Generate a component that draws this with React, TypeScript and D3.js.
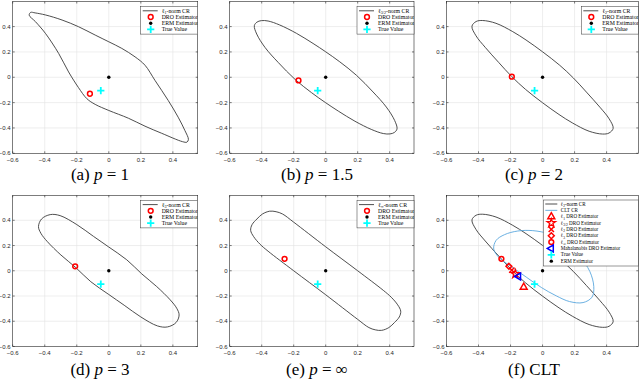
import React from 'react'
import * as d3 from 'd3'

type Pt = [number, number]

// tick values shared by every panel
const xTicks = [-0.6, -0.4, -0.2, 0, 0.2, 0.4]
const yTicks = [-0.6, -0.4, -0.2, 0, 0.2, 0.4]
const gridVals = [-0.4, -0.2, 0, 0.2, 0.4]

// confidence-region boundaries
const l1Curve: Pt[] = [
  [-0.488, 0.512], [-0.46, 0.508], [-0.396, 0.492], [-0.292, 0.452], [-0.189, 0.399], [-0.085, 0.333],
  [0, 0.28], [0.081, 0.228], [0.164, 0.161], [0.226, 0.095], [0.288, -0.024], [0.371, -0.183],
  [0.433, -0.315], [0.475, -0.42], [0.497, -0.49], [0.488, -0.512], [0.46, -0.508], [0.33, -0.442],
  [0.226, -0.386], [0.122, -0.323], [0, -0.262], [-0.085, -0.214], [-0.137, -0.169], [-0.189, -0.082],
  [-0.251, 0.042], [-0.313, 0.188], [-0.396, 0.347], [-0.458, 0.439], [-0.497, 0.49],
]
const l15Curve: Pt[] = [
  [-0.402, 0.447], [-0.36, 0.444], [-0.288, 0.413], [-0.183, 0.347], [-0.079, 0.267], [0, 0.201],
  [0.088, 0.122], [0.192, 0.016], [0.296, -0.116], [0.379, -0.235], [0.431, -0.341], [0.446, -0.407],
  [0.43, -0.435], [0.402, -0.447], [0.36, -0.444], [0.288, -0.413], [0.183, -0.347], [0.079, -0.267],
  [0, -0.201], [-0.088, -0.122], [-0.192, -0.016], [-0.296, 0.116], [-0.379, 0.235], [-0.431, 0.341],
  [-0.446, 0.407], [-0.43, 0.435],
]
const l2Curve: Pt[] = [
  [-0.374, 0.448], [-0.291, 0.426], [-0.186, 0.36], [-0.103, 0.294], [0, 0.201], [0.107, 0.095],
  [0.192, -0.005], [0.274, -0.117], [0.358, -0.236], [0.416, -0.328], [0.441, -0.403], [0.415, -0.44],
  [0.374, -0.448], [0.291, -0.426], [0.186, -0.36], [0.103, -0.294], [0, -0.201], [-0.107, -0.095],
  [-0.192, 0.005], [-0.274, 0.117], [-0.358, 0.236], [-0.416, 0.328], [-0.441, 0.403], [-0.415, 0.44],
]
const l3Curve: Pt[] = [
  [-0.366, 0.445], [-0.304, 0.437], [-0.2, 0.366], [-0.096, 0.273], [0, 0.188], [0.112, 0.087],
  [0.206, -0.025], [0.299, -0.125], [0.383, -0.23], [0.424, -0.297], [0.439, -0.35], [0.42, -0.41],
  [0.366, -0.445], [0.304, -0.437], [0.2, -0.366], [0.096, -0.273], [0, -0.188], [-0.112, -0.087],
  [-0.206, 0.025], [-0.299, 0.125], [-0.383, 0.23], [-0.424, 0.297], [-0.439, 0.35], [-0.42, 0.41],
]
const lInfCurve: Pt[] = [
  [-0.395, 0.45], [-0.35, 0.472], [-0.31, 0.468], [-0.27, 0.45], [-0.2, 0.385], [0, 0.19], [0.2, 0.0],
  [0.36, -0.155], [0.41, -0.21], [0.45, -0.27], [0.469, -0.32], [0.46, -0.366], [0.43, -0.41],
  [0.395, -0.45], [0.35, -0.472], [0.31, -0.468], [0.27, -0.45], [0.2, -0.385], [0, -0.19], [-0.2, 0.0],
  [-0.36, 0.155], [-0.41, 0.21], [-0.45, 0.27], [-0.469, 0.32], [-0.46, 0.366], [-0.43, 0.41],
]
const cltCurve: Pt[] = [
  [-0.305, 0.172], [-0.29, 0.241], [-0.238, 0.286], [-0.155, 0.315], [-0.061, 0.318], [0.044, 0.291],
  [0.148, 0.22], [0.232, 0.114], [0.295, -0.005], [0.32, -0.125], [0.309, -0.209], [0.253, -0.252],
  [0.169, -0.244], [0.086, -0.199], [-0.008, -0.132], [-0.102, -0.05], [-0.196, 0.034], [-0.269, 0.101],
]

// estimators
const droPoints: Pt[] = [[-0.118, -0.13], [-0.17, -0.025], [-0.192, 0.005], [-0.21, 0.035], [-0.257, 0.095]]
const mahalanobisPoint: Pt = [-0.15, -0.045]
const trueValue: Pt = [-0.05, -0.105]
const ermPoint: Pt = [0, 0]

const panelTags = ['(a)', '(b)', '(c)', '(d)', '(e)', '(f)']
const pLabels = ['1', '1.5', '2', '3', '∞']
const normSubs = ['1', '3/2', '2', '3', '∞']
const normCurves = [l1Curve, l15Curve, l2Curve, l3Curve, lInfCurve]
const droMarkers = ['tri', 'star', 'times', 'diamond', 'circle']
const cltLegend = ['ℓ|2|-norm CR', 'CLT CR', 'ℓ|1| DRO Estimator', 'ℓ|3/2| DRO Estimator', 'ℓ|2| DRO Estimator',
  'ℓ|3| DRO Estimator', 'ℓ|∞| DRO Estimator', 'Mahalanobis DRO Estimator', 'True Value', 'ERM Estimator']

const cols = [
  { left: 12.7, right: 197.7, xMax: 0.555, capX: 100 },
  { left: 229.7, right: 414, xMax: 0.552, capX: 317 },
  { left: 446.5, right: 638.3, xMax: 0.598, capX: 534 },
]
const rows = [{ top: 1.5, bottom: 153.3, capY: 179.5 }, { top: 195.3, bottom: 346.5, capY: 374.5 }]
const yMax = 0.598

const SERIF = '"Liberation Serif", "DejaVu Serif", serif'
const SANS = '"Liberation Sans", Arial, sans-serif'
const RED = '#ff0000'
const BLUE = '#0000ff'
const CYAN = '#00ffff'
const CLT_BLUE = '#5aa7de'

const sym = (t: d3.SymbolType, s: number) => d3.symbol().type(t).size(s)() || ''

function Marker({ kind, x, y }: { kind: string; x: number; y: number }) {
  const tr = `translate(${x},${y})`
  switch (kind) {
    case 'circle':
      return <circle cx={x} cy={y} r={2.4} fill="none" stroke={RED} strokeWidth={1.5} />
    case 'erm':
      return <circle cx={x} cy={y} r={1.7} fill="#000" />
    case 'true':
      return <path transform={tr} d={sym(d3.symbolPlus, 19)} stroke={CYAN} strokeWidth={1.8} fill="none" />
    case 'tri':
      return <path transform={tr} d={sym(d3.symbolTriangle2, 34)} stroke={RED} strokeWidth={1.5} fill="none" />
    case 'star':
      return <path transform={tr} d={sym(d3.symbolStar, 22)} stroke={RED} strokeWidth={1.3} fill="none" />
    case 'times':
      return <path transform={tr} d={sym(d3.symbolTimes, 20)} stroke={RED} strokeWidth={1.5} fill="none" />
    case 'diamond':
      return <path transform={tr} d={sym(d3.symbolDiamond2, 22)} stroke={RED} strokeWidth={1.5} fill="none" />
    case 'mah':
      return <path transform={`${tr} rotate(-90)`} d={sym(d3.symbolTriangle2, 34)} stroke={BLUE} strokeWidth={1.5} fill="none" />
    default:
      return null
  }
}

// "ℓ|sub|rest" -> ℓ with subscript
function LegendText({ x, y, s, size }: { x: number; y: number; s: string; size: number }) {
  const parts = s.split('|')
  return (
    <text x={x} y={y} dy="0.33em" fontFamily={SERIF} fontSize={size} fill="#000">
      {parts.length === 3 ? (
        <>
          <tspan>{parts[0]}</tspan>
          <tspan fontSize={size * 0.7} dy={1.2}>{parts[1]}</tspan>
          <tspan dy={-1.2}>{parts[2]}</tspan>
        </>
      ) : s}
    </text>
  )
}

function Panel({ idx }: { idx: number }) {
  const c = cols[idx % 3]
  const r = rows[Math.floor(idx / 3)]
  const sx = d3.scaleLinear().domain([-0.6, c.xMax]).range([c.left, c.right])
  const sy = d3.scaleLinear().domain([-0.6, yMax]).range([r.bottom, r.top])
  const line = d3.line<Pt>().x(d => sx(d[0])).y(d => sy(d[1])).curve(d3.curveCatmullRomClosed.alpha(0.5))
  const clip = `clip-${idx}`
  const lclip = `lclip-${idx}`
  const isClt = idx === 5
  const curve = isClt ? l2Curve : normCurves[idx]

  const legW = isClt ? c.right - 543.3 : 57
  const legH = isClt ? 66 : 27.6
  const lx = c.right - legW
  const ly = r.top + (isClt ? 4.7 : 5)
  const rowH = isClt ? 6.35 : 6.2
  const rowY0 = ly + (isClt ? 4 : 4.3)
  const txtX = lx + (isClt ? 17.5 : 21)
  const mkX = lx + (isClt ? 8 : 10)
  const lineX = isClt ? [lx + 2, lx + 14] : [lx + 2, lx + 17]
  const fs = isClt ? 5.1 : 5.8

  return (
    <g>
      <defs>
        <clipPath id={clip}><rect x={c.left} y={r.top} width={c.right - c.left} height={r.bottom - r.top} /></clipPath>
        <clipPath id={lclip}><rect x={lx} y={ly} width={legW} height={legH} /></clipPath>
      </defs>
      {/* grid */}
      {gridVals.map(v => (
        <line key={'gx' + v} x1={sx(v)} x2={sx(v)} y1={r.top} y2={r.bottom} stroke="#e3e3e3" strokeWidth={0.6} />
      ))}
      {gridVals.map(v => (
        <line key={'gy' + v} x1={c.left} x2={c.right} y1={sy(v)} y2={sy(v)} stroke="#e3e3e3" strokeWidth={0.6} />
      ))}
      <g clipPath={`url(#${clip})`}>
        <path d={line(curve) || ''} fill="none" stroke="#3a3a3a" strokeWidth={0.9} />
        {isClt && <path d={line(cltCurve) || ''} fill="none" stroke={CLT_BLUE} strokeWidth={0.9} />}
        {isClt ? (
          <>
            {droPoints.map((p, i) => <Marker key={i} kind={droMarkers[i]} x={sx(p[0])} y={sy(p[1])} />).reverse()}
            <Marker kind="mah" x={sx(mahalanobisPoint[0])} y={sy(mahalanobisPoint[1])} />
            <Marker kind="true" x={sx(trueValue[0])} y={sy(trueValue[1])} />
            <Marker kind="erm" x={sx(ermPoint[0])} y={sy(ermPoint[1])} />
          </>
        ) : (
          <>
            <Marker kind="circle" x={sx(droPoints[idx][0])} y={sy(droPoints[idx][1])} />
            <Marker kind="erm" x={sx(ermPoint[0])} y={sy(ermPoint[1])} />
            <Marker kind="true" x={sx(trueValue[0])} y={sy(trueValue[1])} />
          </>
        )}
      </g>
      {/* box and ticks */}
      <rect x={c.left} y={r.top} width={c.right - c.left} height={r.bottom - r.top} fill="none" stroke="#262626" strokeWidth={0.6} />
      {xTicks.map(v => (
        <g key={'tx' + v}>
          <line x1={sx(v)} x2={sx(v)} y1={r.bottom} y2={r.bottom - 2} stroke="#262626" strokeWidth={0.6} />
          <line x1={sx(v)} x2={sx(v)} y1={r.top} y2={r.top + 2} stroke="#262626" strokeWidth={0.6} />
          <text x={sx(v)} y={r.bottom + 8.3} textAnchor="middle" fontFamily={SANS} fontSize={6} fill="#262626">{d3.format('')(v)}</text>
        </g>
      ))}
      {yTicks.map(v => (
        <g key={'ty' + v}>
          <line x1={c.left} x2={c.left + 2} y1={sy(v)} y2={sy(v)} stroke="#262626" strokeWidth={0.6} />
          <line x1={c.right} x2={c.right - 2} y1={sy(v)} y2={sy(v)} stroke="#262626" strokeWidth={0.6} />
          <text x={c.left - 2} y={sy(v)} dy="0.35em" textAnchor="end" fontFamily={SANS} fontSize={6} fill="#262626">{d3.format('')(v)}</text>
        </g>
      ))}
      {/* legend */}
      <rect x={lx} y={ly} width={legW} height={legH} fill="#fff" stroke="#333" strokeWidth={0.5} />
      <g clipPath={`url(#${lclip})`}>
        {isClt ? (
          cltLegend.map((s, i) => {
            const yy = rowY0 + i * rowH
            let mk: React.ReactNode = null
            if (i === 0) mk = <line x1={lineX[0]} x2={lineX[1]} y1={yy} y2={yy} stroke="#3a3a3a" strokeWidth={0.9} />
            else if (i === 1) mk = <line x1={lineX[0]} x2={lineX[1]} y1={yy} y2={yy} stroke={CLT_BLUE} strokeWidth={0.9} />
            else if (i < 7) mk = <Marker kind={droMarkers[i - 2]} x={mkX} y={yy} />
            else mk = <Marker kind={['mah', 'true', 'erm'][i - 7]} x={mkX} y={yy} />
            return <g key={i}>{mk}<LegendText x={txtX} y={yy} s={s} size={fs} /></g>
          })
        ) : (
          <>
            <line x1={lineX[0]} x2={lineX[1]} y1={rowY0} y2={rowY0} stroke="#3a3a3a" strokeWidth={0.9} />
            <LegendText x={txtX} y={rowY0} s={`ℓ|${normSubs[idx]}|-norm CR`} size={fs} />
            <Marker kind="circle" x={mkX} y={rowY0 + rowH} />
            <LegendText x={txtX} y={rowY0 + rowH} s="DRO Estimator" size={fs} />
            <Marker kind="erm" x={mkX} y={rowY0 + 2 * rowH} />
            <LegendText x={txtX} y={rowY0 + 2 * rowH} s="ERM Estimator" size={fs} />
            <Marker kind="true" x={mkX} y={rowY0 + 3 * rowH} />
            <LegendText x={txtX} y={rowY0 + 3 * rowH} s="True Value" size={fs} />
          </>
        )}
      </g>
      {/* caption */}
      <text x={c.capX} y={r.capY} textAnchor="middle" fontFamily={SERIF} fontSize={17} fill="#000">
        {isClt ? (
          <tspan>{panelTags[idx]} CLT</tspan>
        ) : (
          <>
            <tspan>{panelTags[idx]} </tspan>
            <tspan fontStyle="italic">p</tspan>
            <tspan> = {pLabels[idx]}</tspan>
          </>
        )}
      </text>
    </g>
  )
}

export default function App() {
  return (
    <svg width={640} height={379} style={{ position: 'absolute', left: 0, top: 0, background: '#fff' }}>
      {panelTags.map((_, i) => <Panel key={i} idx={i} />)}
    </svg>
  )
}
